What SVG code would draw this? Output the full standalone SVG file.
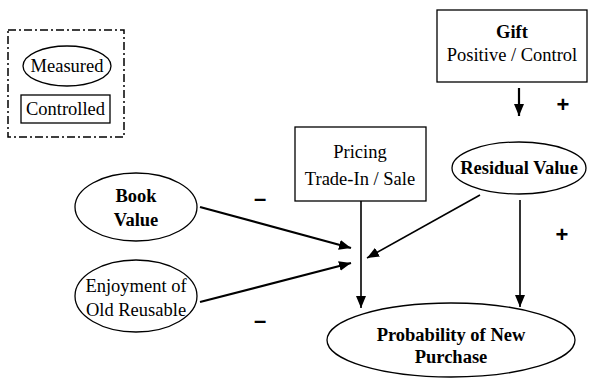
<svg xmlns="http://www.w3.org/2000/svg" width="592" height="381" viewBox="0 0 592 381">
<style>
  .shape{fill:#fff;stroke:#000;stroke-width:1.3}
  .t{font-family:"Liberation Serif","Times New Roman",serif;font-size:18.5px;text-anchor:middle;fill:#000}
  .b{font-weight:bold;font-size:18.5px}
  .c{stroke:#000;stroke-width:2.2;fill:none;marker-end:url(#ah)}
  .c1{stroke:#000;stroke-width:1.6;fill:none;marker-end:url(#ah)}
  .sign{font-family:"Liberation Sans",Arial,sans-serif;font-size:22px;font-weight:bold;text-anchor:middle;fill:#000}
</style>
<defs>
  <marker id="ah" viewBox="0 0 12 10" refX="12" refY="5" markerWidth="12" markerHeight="10" markerUnits="userSpaceOnUse" orient="auto">
    <path d="M0,0 L12,5 L0,10 Z" fill="#000"/>
  </marker>
</defs>
<rect width="592" height="381" fill="#fff"/>
<g id="legend">
  <rect x="8" y="30" width="116" height="107" fill="none" stroke="#000" stroke-width="1.5" stroke-dasharray="8,3,2,3"/>
  <ellipse class="shape" cx="67" cy="66" rx="44" ry="20"/>
  <text class="t" x="67" y="72">Measured</text>
  <rect class="shape" x="21" y="95" width="89" height="28"/>
  <text class="t" x="65.5" y="115">Controlled</text>
</g>
<g id="gift">
  <rect class="shape" x="437" y="10" width="150" height="72"/>
  <text class="t b" x="512" y="38">Gift</text>
  <text class="t" x="512" y="61">Positive / Control</text>
</g>
<g id="pricing">
  <rect class="shape" x="295" y="127" width="131" height="74"/>
  <text class="t" x="360" y="158">Pricing</text>
  <text class="t" x="360" y="185">Trade-In / Sale</text>
</g>
<g id="residual">
  <ellipse class="shape" cx="519" cy="168" rx="67" ry="26"/>
  <text class="t b" x="519" y="174">Residual Value</text>
</g>
<g id="book">
  <ellipse class="shape" cx="136" cy="207" rx="61" ry="34"/>
  <text class="t b" x="136" y="202">Book</text>
  <text class="t b" x="136" y="226">Value</text>
</g>
<g id="enjoyment">
  <ellipse class="shape" cx="136" cy="296" rx="61" ry="36"/>
  <text class="t" x="136" y="292">Enjoyment of</text>
  <text class="t" x="136" y="316">Old Reusable</text>
</g>
<g id="probability">
  <ellipse class="shape" cx="451" cy="340" rx="124" ry="37"/>
  <text class="t b" x="451" y="341">Probability of New</text>
  <text class="t b" x="451" y="363">Purchase</text>
</g>
<g id="connectors">
  <line class="c" x1="519" y1="88" x2="519" y2="116"/>
  <line class="c" x1="200" y1="207" x2="351" y2="248"/>
  <line class="c" x1="200" y1="302" x2="351" y2="263"/>
  <line class="c1" x1="480" y1="195" x2="367" y2="258"/>
  <line class="c1" x1="361" y1="201" x2="361" y2="308"/>
  <line class="c1" x1="520" y1="200" x2="520" y2="307"/>
</g>
<g id="signs">
  <text class="sign" x="563" y="112">+</text>
  <text class="sign" x="562" y="242">+</text>
  <text class="sign" x="260" y="206">–</text>
  <text class="sign" x="260" y="328">–</text>
</g>
</svg>
